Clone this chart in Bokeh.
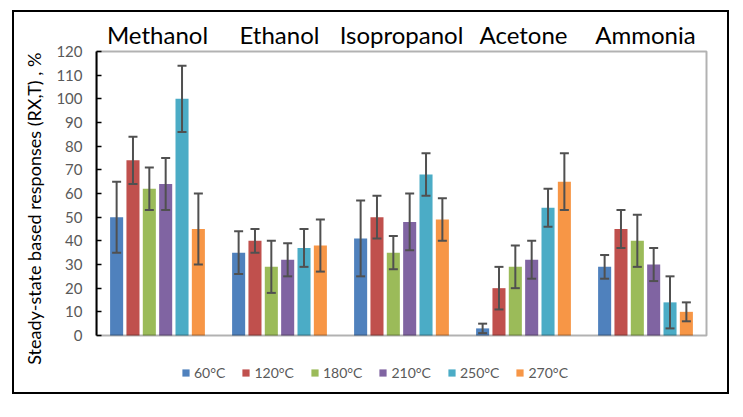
import numpy as np
from bokeh.plotting import figure
from bokeh.models import (ColumnDataSource, Whisker, TeeHead, Range1d, FixedTicker,
                          Legend, LegendItem, BoxAnnotation)
from bokeh.embed import file_html
from bokeh.resources import INLINE

compounds = ["Methanol", "Ethanol", "Isopropanol", "Acetone", "Ammonia"]
temps = ["60\u00b0C", "120\u00b0C", "180\u00b0C", "210\u00b0C", "250\u00b0C", "270\u00b0C"]
colors = ["#4F81BD", "#C0504D", "#9BBB59", "#8064A2", "#4BACC6", "#F79646"]

resp_60 = [50, 35, 41, 3, 29]
resp_120 = [74, 40, 50, 20, 45]
resp_180 = [62, 29, 35, 29, 40]
resp_210 = [64, 32, 48, 32, 30]
resp_250 = [100, 37, 68, 54, 14]
resp_270 = [45, 38, 49, 65, 10]

err_60 = [15, 9, 16, 2, 5]
err_120 = [10, 5, 9, 9, 8]
err_180 = [9, 11, 7, 9, 11]
err_210 = [11, 7, 12, 8, 7]
err_250 = [14, 8, 9, 8, 11]
err_270 = [15, 11, 9, 12, 4]

y_ticks = list(range(0, 121, 10))
y_min, y_max = 0, 120

series = [resp_60, resp_120, resp_180, resp_210, resp_250, resp_270]
errors = [err_60, err_120, err_180, err_210, err_250, err_270]

FONT = "Lato"
pitch = 0.134
bar_w = 0.107
NB = "\u00a0"

# layout (pixels): canvas W x H; plot box BOX_W x BOX_H at (BOX_L, BOX_T) inside canvas
W, H = 717, 384
BOX_L, BOX_T, BOX_W, BOX_H = 82, 39, 610, 284
FRAME_T = BOX_T - 3
n = len(compounds)
xpp = n / BOX_W
ypp = (y_max - y_min) / BOX_H
x_end = (W - BOX_L) * xpp
y_start = y_min - (H - BOX_T - BOX_H) * ypp
y_end = y_max + (BOX_T - FRAME_T) * ypp

p = figure(width=W, height=H, output_backend="svg", toolbar_location=None,
           x_range=Range1d(0, x_end), y_range=Range1d(y_start, y_end),
           x_axis_location="above",
           min_border_left=BOX_L, min_border_right=0, min_border_top=FRAME_T, min_border_bottom=0,
           styles={"border": "2px solid black", "transform": "translate(12px, 10px)"})

p.xgrid.visible = False
p.ygrid.visible = False
p.outline_line_color = None

p.add_layout(BoxAnnotation(left=0, right=n, bottom=y_min, top=y_max, fill_color=None,
                           line_color="black", line_width=2, level="overlay"))

group_centers = [i + 0.5 for i in range(n)]
items = []
for j, (vals, errs) in enumerate(zip(series, errors)):
    xs = [c + (j - 2.5) * pitch for c in group_centers]
    src = ColumnDataSource(dict(x=xs, top=vals,
                                upper=[v + e for v, e in zip(vals, errs)],
                                lower=[v - e for v, e in zip(vals, errs)]))
    r = p.vbar(x="x", top="top", width=bar_w, bottom=0, source=src,
               fill_color=colors[j], line_color=None)
    items.append(LegendItem(label=temps[j], renderers=[r]))
    w = Whisker(base="x", upper="upper", lower="lower", source=src,
                line_color="#505050", line_width=2, level="overlay",
                upper_head=TeeHead(size=9, line_color="#505050", line_width=2),
                lower_head=TeeHead(size=9, line_color="#505050", line_width=2))
    p.add_layout(w)

# top axis with compound names
xa = p.xaxis[0]
xa.ticker = FixedTicker(ticks=group_centers)
xa.major_label_overrides = {c: name for c, name in zip(group_centers, compounds)}
xa.axis_line_color = None
xa.major_tick_line_color = None
xa.minor_tick_line_color = None
xa.major_label_text_font = FONT
xa.major_label_text_font_size = "24px"
xa.major_label_text_color = "black"
xa.major_label_standoff = -6

ya = p.yaxis[0]
ya.ticker = FixedTicker(ticks=y_ticks)
ya.bounds = (y_min, y_max)
ya.axis_line_color = "black"
ya.axis_line_width = 2
ya.major_tick_in = 5
ya.major_tick_out = 0
ya.major_tick_line_color = "black"
ya.major_tick_line_width = 1.5
ya.minor_tick_line_color = None
ya.major_label_text_font = FONT
ya.major_label_text_font_size = "15px"
ya.major_label_text_color = "#595959"
ya.major_label_standoff = 14
ya.axis_label = NB * 6 + "Steady-state based responses (RX,T) , %"
ya.axis_label_text_font = FONT
ya.axis_label_text_font_size = "18px"
ya.axis_label_text_font_style = "normal"
ya.axis_label_text_color = "black"
ya.axis_label_standoff = 8

legend = Legend(items=items, orientation="horizontal", location=(85, 15),
                glyph_width=9, glyph_height=9, label_standoff=4, spacing=16,
                padding=0, margin=0, border_line_color=None, background_fill_alpha=0,
                label_text_font=FONT, label_text_font_size="14px",
                label_text_color="#595959")
p.add_layout(legend, "center")

open("out.html", "w").write(file_html(p, INLINE))
